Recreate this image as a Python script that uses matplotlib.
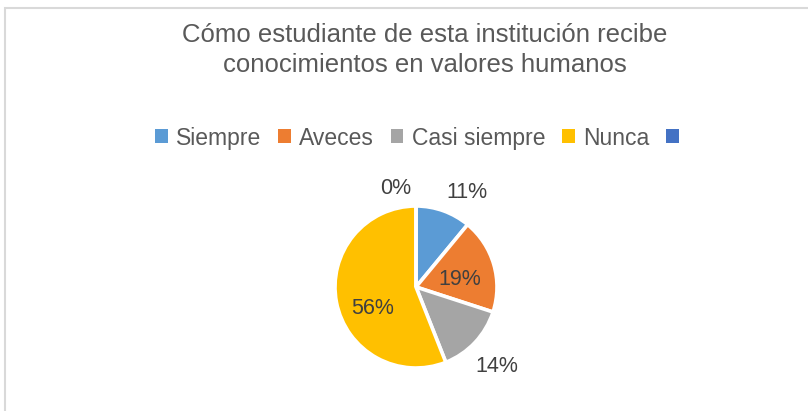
import matplotlib
matplotlib.use('Agg')
import matplotlib.pyplot as plt
from matplotlib.patches import Rectangle, Patch
import numpy as np

plt.rcParams['font.family'] = ['Liberation Sans', 'DejaVu Sans']

# datos
categorias = ['Siempre', 'Aveces', 'Casi siempre', 'Nunca', '']
porcentajes = [11, 19, 14, 56, 0]
colores = ['#5B9BD5', '#ED7D31', '#A5A5A5', '#FFC000', '#4472C4']
titulo = ['Cómo estudiante de esta institución recibe',
          'conocimientos en valores humanos']

# posicion de las etiquetas (radio relativo, giro en grados respecto al centro de la porcion)
pos_etiq = [(1.33, -8.4), (0.55, -6), (1.40, -1.5), (0.60, 16), (1.24, 11.5)]

fig = plt.figure(figsize=(8.08, 4.11), dpi=100)
fig.patches.append(Rectangle((5 / 808, -0.1), 1.2, (411 - 8) / 411 + 0.1,
                             transform=fig.transFigure, fill=False,
                             edgecolor='#D9D9D9', linewidth=1.5))

for linea, yb in zip(titulo, [41.7, 71.7]):
    fig.text(425 / 808, 1 - yb / 411, linea, ha='center', va='baseline',
             fontsize=18.5, color='#595959')

R = 81
L = 3.2 * R
ax = fig.add_axes([(416 - L / 2) / 808, (124 - L / 2) / 411, L / 808, L / 411])
wedges, _ = ax.pie(porcentajes, colors=colores, startangle=90, counterclock=False,
                   radius=1, wedgeprops=dict(edgecolor='white', linewidth=2.6))
ax.set_xlim(-1.6, 1.6)
ax.set_ylim(-1.6, 1.6)
ax.set_aspect('equal')
ax.axis('off')

for w, p, (r, d) in zip(wedges, porcentajes, pos_etiq):
    ang = np.deg2rad((w.theta1 + w.theta2) / 2 + d)
    ax.text(r * np.cos(ang), r * np.sin(ang), f'{p}%', ha='center', va='center',
            fontsize=15.5, color='#404040', clip_on=False)

handles = [Patch(facecolor=c, edgecolor='none') for c in colores]
fig.legend(handles, categorias, loc='center', bbox_to_anchor=(421 / 808, 1 - 138 / 411),
           ncol=5, frameon=False, fontsize=16.5, labelcolor='#595959',
           handlelength=0.55, handleheight=0.55, handletextpad=0.35,
           columnspacing=0.75)

fig.savefig('out.png', dpi=100)
